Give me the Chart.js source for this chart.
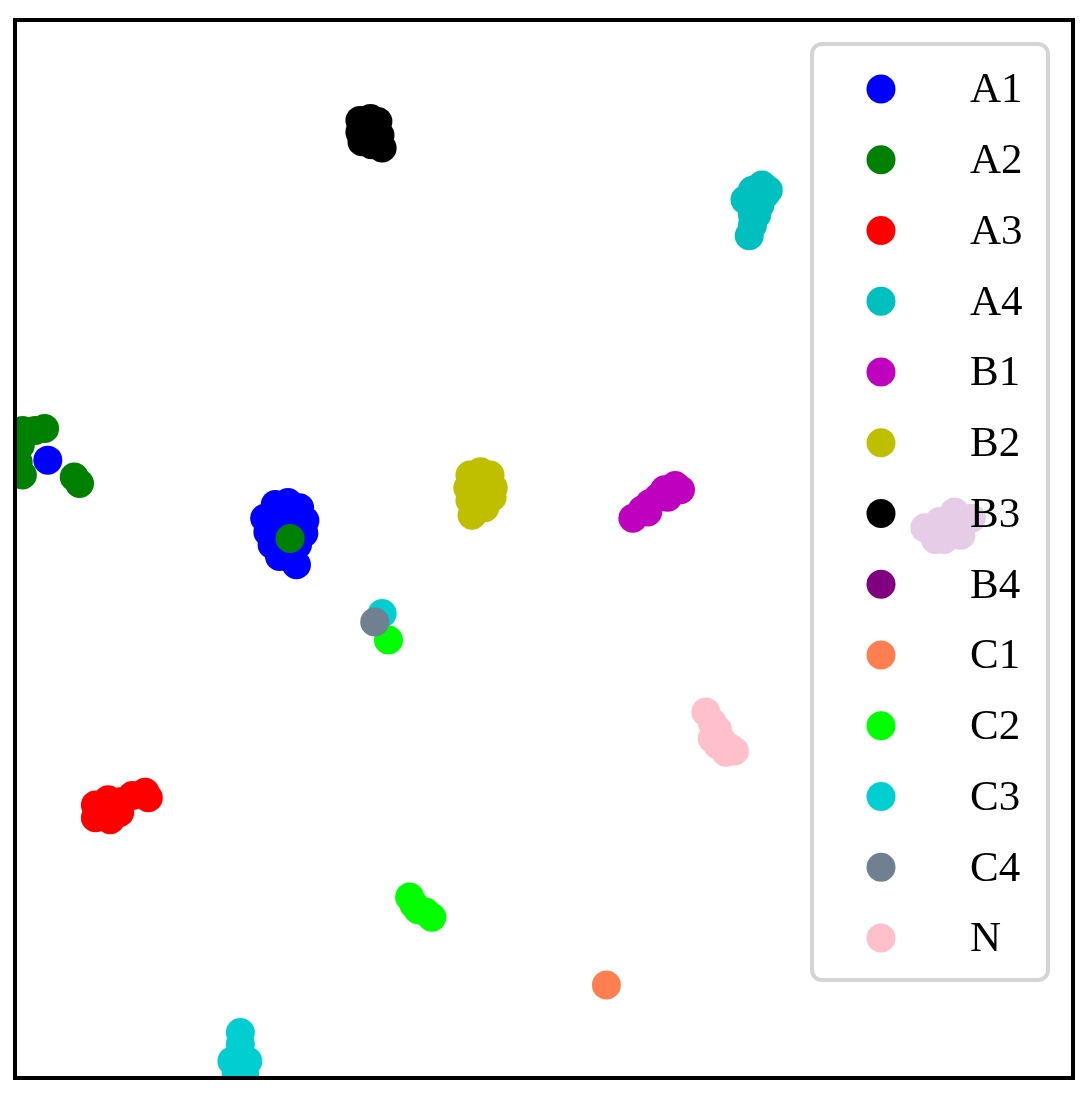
<!DOCTYPE html>
<html>
<head>
<meta charset="utf-8">
<script src="https://cdn.jsdelivr.net/npm/chart.js@4"></script>
<style>
  body { margin: 0; background: #fff; }
  canvas { display: block; }
</style>
</head>
<body>
<canvas id="tsneChart" width="1089" height="1105"></canvas>
<script>
// class labels and colours
const labels = ["A1", "A2", "A3", "A4", "B1", "B2", "B3", "B4", "C1", "C2", "C3", "C4", "N"];
const colors = ["#0000ff", "#008000", "#ff0000", "#00bfbf", "#bf00bf", "#bfbf00", "#000000",
                "#800080", "#ff7f50", "#00ff00", "#00ced1", "#708090", "#ffc0cb"];

// embedded points [x, y] per class
const A1 = [[-25.4, 4.2], [-24.2, 4.4], [-23.1, 3.9], [-26.4, 2.9], [-25.1, 2.9], [-23.8, 2.9],
            [-22.6, 2.7], [-26.1, 1.6], [-25.0, 1.6], [-23.7, 1.6], [-22.7, 1.5], [-25.7, 0.4],
            [-24.5, 0.4], [-23.3, 0.4], [-25.0, -0.7], [-23.8, -1.0], [-23.4, -1.5],
            [-46.9, 8.4]];
const A2 = [[-49.3, 11.2], [-48.1, 11.2], [-47.2, 11.4], [-49.5, 9.8], [-49.7, 8.2], [-49.3, 7.0],
            [-44.4, 6.8], [-43.9, 6.2], [-24.0, 1.0]];
const A3 = [[-42.4, -24.2], [-41.2, -23.7], [-40.1, -23.9], [-42.4, -25.4], [-41.2, -25.4],
            [-40.1, -24.9], [-38.9, -23.3], [-37.7, -23.0], [-37.4, -23.5], [-41.0, -25.6]];
const A4 = [[20.6, 34.4], [19.7, 33.9], [20.9, 33.5], [21.2, 33.9], [19.0, 33.0], [19.5, 32.5],
            [20.4, 32.5], [19.7, 31.6], [20.1, 31.6], [19.7, 30.6], [19.4, 29.6]];
const B1 = [[8.4, 2.9], [9.3, 3.7], [10.0, 4.3], [10.8, 4.9], [11.4, 5.6], [12.4, 6.0],
            [12.9, 5.6], [11.7, 4.9], [9.8, 3.5]];
const B2 = [[-7.0, 7.0], [-6.0, 7.3], [-5.1, 7.0], [-7.2, 5.8], [-6.0, 5.8], [-4.8, 5.8],
            [-7.0, 4.6], [-5.9, 4.6], [-4.9, 4.9], [-6.8, 3.2], [-5.6, 3.9]];
const B3 = [[-17.4, 40.5], [-16.4, 40.7], [-15.7, 40.4], [-17.4, 39.4], [-16.4, 39.4],
            [-15.5, 39.1], [-17.2, 38.5], [-16.3, 38.2], [-15.3, 37.9]];
const B4 = [[36.0, 2.0], [37.4, 2.6], [38.8, 3.5], [40.4, 2.9], [37.8, 0.9], [39.4, 1.3],
            [37.0, 0.9], [38.4, 2.3], [39.5, 2.6]];
const C1 = [[5.9, -41.2]];
const C2 = [[-14.7, -8.6], [-12.7, -32.9], [-11.9, -34.1], [-10.6, -34.8], [-11.2, -34.3],
            [-12.3, -33.6]];
const C3 = [[-15.3, -6.1], [-28.7, -45.7], [-28.7, -46.8], [-29.5, -48.4], [-28.0, -48.4],
            [-29.1, -49.6], [-28.3, -49.6]];
const C4 = [[-16.0, -6.9]];
const N = [[15.3, -15.4], [15.9, -16.4], [16.4, -17.1], [16.8, -18.1], [17.6, -18.8],
           [16.4, -18.5], [15.9, -17.9], [17.2, -19.2], [18.0, -19.1]];

const classes = [A1, A2, A3, A4, B1, B2, B3, B4, C1, C2, C3, C4, N];

// frame around the plot area
const framePlugin = {
  id: "frame",
  afterDraw(chart) {
    const { ctx, chartArea: a } = chart;
    ctx.save();
    ctx.strokeStyle = "#000";
    ctx.lineWidth = 4;
    ctx.strokeRect(a.left, a.top, a.right - a.left, a.bottom - a.top);
    ctx.restore();
  },
};

// matplotlib style legend drawn inside the axes
const boxLegend = {
  id: "boxLegend",
  afterDatasetsDraw(chart) {
    const ctx = chart.ctx;
    const x0 = 812, y0 = 44, w = 236, h = 936, r = 10;
    ctx.save();
    ctx.beginPath();
    ctx.roundRect(x0, y0, w, h, r);
    ctx.fillStyle = "rgba(255,255,255,0.8)";
    ctx.fill();
    ctx.lineWidth = 4;
    ctx.strokeStyle = "rgba(204,204,204,0.85)";
    ctx.stroke();

    ctx.font = "43px 'Liberation Serif', 'Times New Roman', serif";
    ctx.textBaseline = "middle";
    ctx.textAlign = "left";
    labels.forEach((lab, i) => {
      const y = 89 + i * 70.75;
      ctx.beginPath();
      ctx.arc(881, y, 14.5, 0, Math.PI * 2);
      ctx.fillStyle = colors[i];
      ctx.fill();
      ctx.fillStyle = "#000";
      ctx.fillText(lab, 970, y + 2);
    });
    ctx.restore();
  },
};

const ctx = document.getElementById("tsneChart").getContext("2d");
new Chart(ctx, {
  type: "scatter",
  data: {
    datasets: classes.map((pts, i) => ({
      label: labels[i],
      data: pts.map((p) => ({ x: p[0], y: p[1] })),
      backgroundColor: colors[i],
      borderWidth: 0,
      pointRadius: 14.5,
      pointHoverRadius: 14.5,
      order: -i,
      clip: 0,
    })),
  },
  options: {
    responsive: false,
    animation: false,
    devicePixelRatio: 1,
    layout: { padding: { left: 15, top: 20, right: 16, bottom: 27 } },
    scales: {
      x: { type: "linear", min: -50, max: 50, display: false },
      y: { type: "linear", min: -50, max: 50, display: false },
    },
    plugins: { legend: { display: false }, tooltip: { enabled: false } },
  },
  plugins: [boxLegend, framePlugin],
});
</script>
</body>
</html>
